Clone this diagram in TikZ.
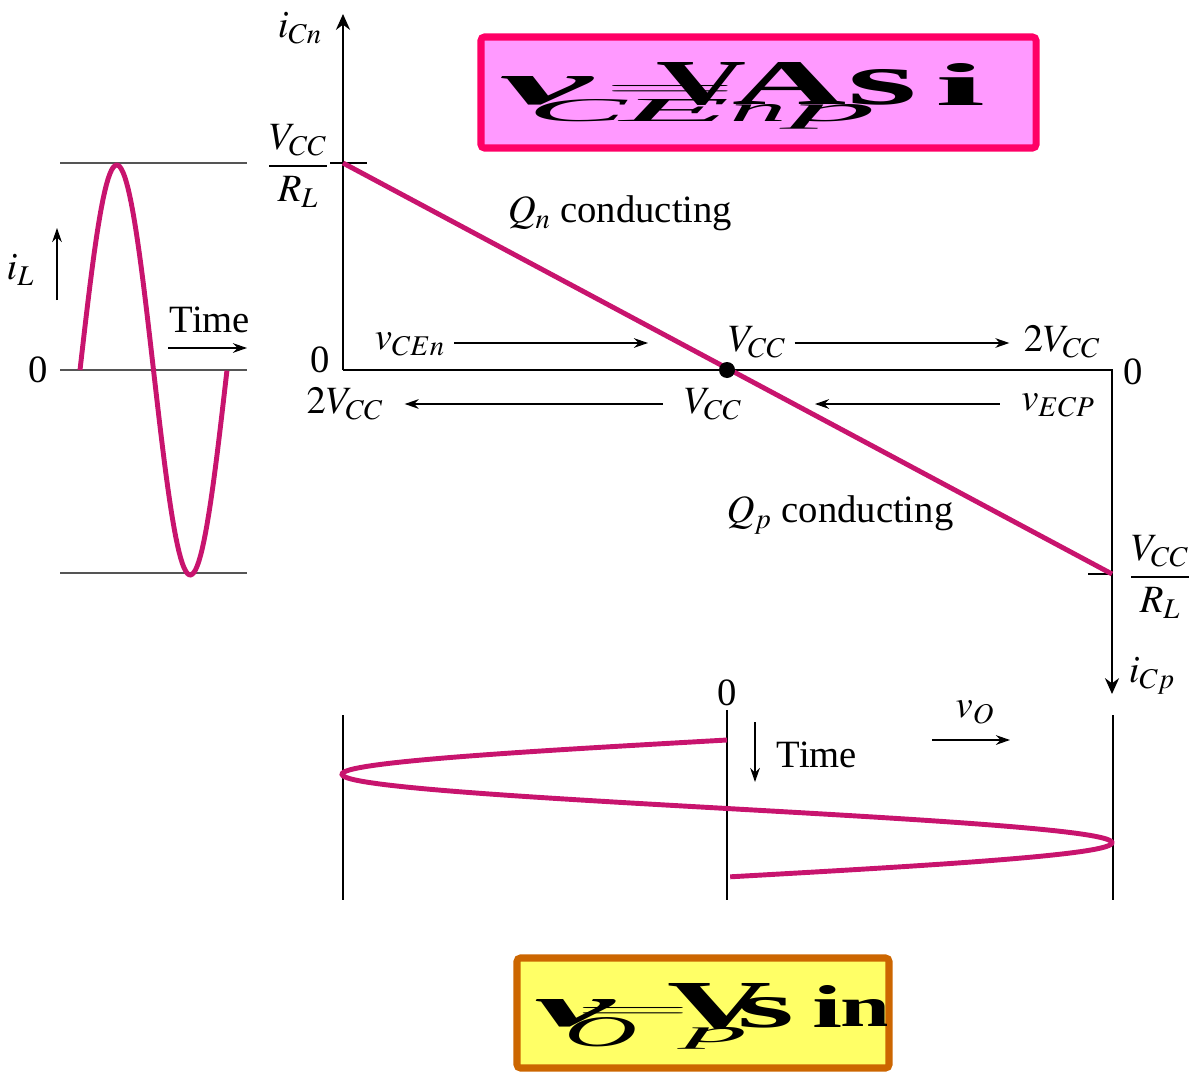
\documentclass[tikz,border=0pt]{standalone}
\usepackage{amsmath,amssymb}
\usepackage{mathptmx}
\usepackage[no-math]{fontspec}
\setmainfont{Liberation Serif}
\usepackage{graphicx}
\usepackage{xcolor}
\usepackage{tikz}
\usetikzlibrary{arrows.meta,positioning,calc}

\definecolor{loadline}{RGB}{200,20,110}
\definecolor{boxpink}{RGB}{255,153,255}
\definecolor{boxrim}{RGB}{255,0,102}
\definecolor{boxyellow}{RGB}{255,255,102}
\definecolor{boxbrown}{RGB}{204,102,0}
\definecolor{refgray}{RGB}{85,85,85}

\newlength{\pxu}
\setlength{\pxu}{0.02cm}
\newcommand{\gly}[3]{\resizebox{#1\pxu}{#2\pxu}{#3}}

\tikzset{
  axis/.style={line width=1.3pt, -{Stealth[length=9pt,width=8pt]}},
  flow/.style={line width=0.9pt, -{Stealth[length=8pt,width=5.5pt]}},
  wave/.style={line width=2.8pt, loadline},
  level/.style={line width=1.4pt, refgray},
  lbl/.style={font=\fontsize{22}{26}\selectfont, inner sep=2pt},
  glyph/.style={inner sep=0pt},
}

\begin{document}
\begin{tikzpicture}[x=0.02cm, y=-0.02cm]
\useasboundingbox (0,0) rectangle (1196,1071);

\coordinate (O) at (343,370);
\coordinate (ytop) at (343,14);
\coordinate (E) at (1112,370);
\coordinate (ybot) at (1112,694);
\coordinate (A) at (343,163);
\coordinate (B) at (1112,574);
\coordinate (Q) at (727,370);

\draw[axis] (O) -- (ytop);
\draw[axis] (O) -- (E) -- (ybot);
\draw[line width=1.3pt] (330,163) -- (367,163);
\draw[line width=1.3pt] (1088,574) -- (1112,574);
\draw[wave] (A) -- (B);
\fill (Q) circle (8);

\node[lbl] (icn) at (300,28) {$i_{Cn}$};
\node[lbl] (fracn) at (298,166) {$\dfrac{V_{CC}}{R_L}$};
\node[lbl] (zn) at (320,360) {0};
\node[lbl] (zp) at (1133,372) {0};
\node[lbl] (fracp) at (1160,577) {$\dfrac{V_{CC}}{R_L}$};
\node[lbl] (icp) at (1152,676) {$i_{Cp}$};
\node[lbl] (qn) at (620,213) {$Q_n$ conducting};
\node[lbl] (qp) at (840,515) {$Q_p$ conducting};

\node[lbl] (vcen) at (410,344) {$v_{CEn}$};
\node[lbl] (vcct) at (757,342) {$V_{CC}$};
\node[lbl] (twot) at (1062,342) {$2V_{CC}$};
\node[lbl] (twob) at (345,404) {$2V_{CC}$};
\node[lbl] (vccb) at (713,404) {$V_{CC}$};
\node[lbl] (vecp) at (1058,405) {$v_{ECP}$};
\coordinate (ent) at (648,343);
\coordinate (enb) at (815,404);
\draw[flow] ([xshift=3pt]vcen.east |- ent) -- (ent);
\draw[flow] ([xshift=3pt]vcct.east |- ent) -- ([xshift=-6pt]twot.west |- ent);
\draw[flow] ([xshift=-10pt]vecp.west |- enb) -- (enb);
\draw[flow] ([xshift=-10pt]vccb.west |- enb) -- ([xshift=10pt]twob.east |- enb);

\foreach \y in {163,370,573}
  \draw[level] (60,\y) -- (247,\y);
\draw[wave] plot[domain=0:1, samples=90] ({80+147*\x},{370-205*sin(360*\x)});
\node[lbl] (zl) at (38,370) {0};
\node[lbl, anchor=east] (il) at (38,270) {$i_L$};
\coordinate (ila) at (57,300);
\coordinate (ilb) at (57,228);
\draw[flow] (ila) -- (ilb);
\node[lbl] (tl) at (210,320) {Time};
\coordinate (tla) at (168,348);
\coordinate (tlb) at (247,348);
\draw[flow] (tla) -- (tlb);

\foreach \x/\a in {343/715, 727/710, 1113/715}
  \draw[line width=1.3pt] (\x,\a) -- (\x,900);
\draw[wave] plot[domain=0:1, samples=120] ({727-385*sin(360*\x)},{740+137*\x});
\node[lbl] (zb) at (727,693) {0};
\node[lbl] (tb) at (817,755) {Time};
\coordinate (tba) at (755,722);
\coordinate (tbb) at (755,782);
\draw[flow] (tba) -- (tbb);
\node[lbl] (vo) at (975,712) {$v_O$};
\coordinate (voa) at (932,740);
\coordinate (vob) at (1010,740);
\draw[flow] (voa) -- (vob);

\draw[boxrim, line width=4pt, fill=boxpink, rounded corners=2pt] (481,37) rectangle (1036,148);
\begin{scope}
\clip (484,40) rectangle (1033,145);
\node[glyph] (g1) at (546,91) {\gly{93}{28}{\bfseries\itshape v}};
\node[glyph] (g2) at (670,91) {\gly{135}{10}{$=$}};
\node[glyph] (g3) at (702,84) {\gly{90}{42}{\bfseries V}};
\node[glyph] (g4) at (790,84) {\gly{114}{42}{\bfseries A}};
\node[glyph] (g5) at (882,87) {\gly{70}{35}{\bfseries s}};
\node[glyph] (g6) at (960,84) {\gly{50}{42}{\bfseries i}};
\node[glyph] (g7) at (577,111) {\gly{99}{22}{\itshape C}};
\node[glyph] (g8) at (675,111) {\gly{110}{22}{\itshape E}};
\node[glyph] (g9) at (758,113) {\gly{57}{17}{\itshape n}};
\node[glyph] (g10) at (833,117) {\gly{87}{17}{\itshape p}};
\end{scope}

\draw[boxbrown, line width=4pt, fill=boxyellow, rounded corners=2pt] (517,958) rectangle (889,1068);
\begin{scope}
\clip (520,961) rectangle (886,1065);
\node[glyph] (h1) at (575,1013) {\gly{80}{27}{\bfseries\itshape v}};
\node[glyph] (h2) at (633,1012) {\gly{117}{10}{$=$}};
\node[glyph] (h3) at (720,1007) {\gly{104}{45}{\bfseries V}};
\node[glyph] (h4) at (766,1013) {\gly{57}{30}{\bfseries s}};
\node[glyph] (h5) at (827,1006) {\gly{30}{42}{\bfseries i}};
\node[glyph] (h6) at (865,1013) {\gly{50}{27}{\bfseries n}};
\node[glyph] (h7) at (601,1032) {\gly{73}{29}{\itshape O}};
\node[glyph] (h8) at (716,1038) {\gly{63}{15}{\itshape p}};
\end{scope}
\end{tikzpicture}
\end{document}
